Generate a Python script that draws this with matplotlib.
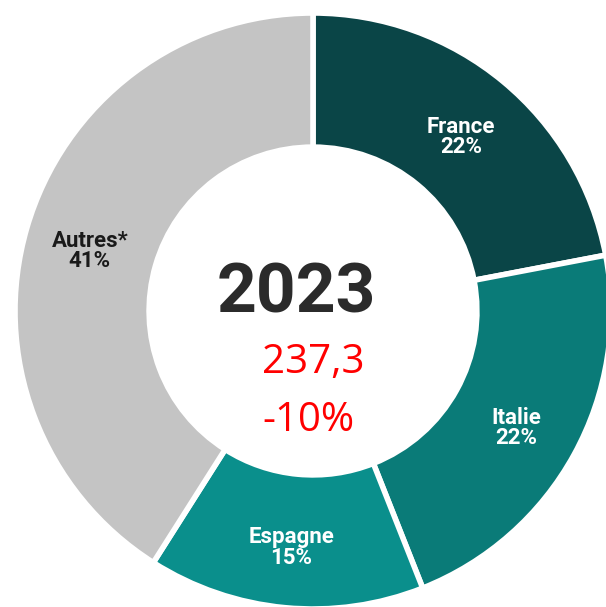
import numpy as np
import matplotlib.pyplot as plt

# data
pays = ["France", "Italie", "Espagne", "Autres*"]
parts = [22, 22, 15, 41]
couleurs = ["#0a4547", "#0a7b78", "#0a8f8c", "#c4c4c4"]
couleurs_texte = ["white", "white", "white", "#1a1a1a"]
annee = "2023"
total = "237,3"
variation = "-10%"

W, H = 606, 607
fig = plt.figure(figsize=(W / 100, H / 100), dpi=100)
ax = fig.add_axes([0, 0, 1, 1])

cx, cy = 313, H - 311
R = 298
largeur = 0.45 * R

wedges, _ = ax.pie(parts, colors=couleurs, startangle=90, counterclock=False,
                   center=(cx, cy), radius=R, frame=True,
                   wedgeprops=dict(width=largeur, edgecolor="white",
                                   linewidth=4, joinstyle="round"))
ax.set_xlim(0, W)
ax.set_ylim(0, H)
ax.set_aspect("equal")
ax.axis("off")

# labels in the middle of each ring segment
cum = np.cumsum([0] + parts[:-1])
for nom, p, c0, tc in zip(pays, parts, cum, couleurs_texte):
    ang = np.deg2rad(90 - (c0 + p / 2) * 3.6)
    r = 0.78 * R
    x = cx + r * np.cos(ang)
    y = cy + r * np.sin(ang) - 5
    ax.text(x, y, f"{nom}\n{p}%", ha="center", va="center", color=tc,
            fontsize=16, fontweight="bold", family="Roboto", linespacing=0.9)

ax.text(cx - 17, cy + 17, annee, ha="center", va="center", fontsize=50,
        fontweight="bold", family="Roboto", color="#2b2b2b")
ax.text(cx - 51, cy - 52, total, ha="left", va="center", fontsize=29,
        family="Open Sans", color="red")
ax.text(cx - 51, cy - 110, variation, ha="left", va="center", fontsize=29,
        family="Open Sans", color="red")

fig.savefig("out.png", dpi=100)
